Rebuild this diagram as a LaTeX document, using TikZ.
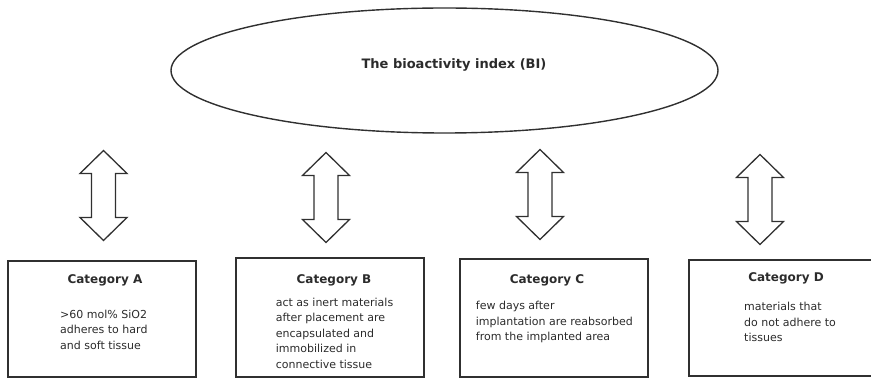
\documentclass[tikz,border=0pt]{standalone}
\usepackage{fontspec}
\setmainfont{DejaVu Sans}
\usetikzlibrary{shapes.geometric}
\definecolor{ink}{HTML}{2B2B2B}
\definecolor{linec}{HTML}{303030}
\tikzset{
  boxnode/.style={draw=linec, line width=1.8pt, rectangle, inner sep=0pt},
  ovalnode/.style={draw=linec, line width=1.4pt, ellipse, inner sep=0pt},
  headtext/.style={text=ink, font=\bfseries\fontsize{12}{14}\selectfont, inner sep=0pt, anchor=base},
  bodytext/.style={text=ink, font=\fontsize{11}{15.5}\selectfont, inner sep=0pt, anchor=north west, align=left},
  bitext/.style={text=ink, font=\bfseries\fontsize{13}{15}\selectfont, inner sep=0pt},
  arrline/.style={draw=linec, line width=1.3pt, line join=miter},
  dblarr/.pic={
    \path[arrline] (0,0) -- (23.5,23) -- (12,23) -- (12,67) -- (23.5,67) -- (0,90)
      -- (-23.5,67) -- (-12,67) -- (-12,23) -- (-23.5,23) -- cycle;
  }
}
\begin{document}
\begin{tikzpicture}[x=1pt,y=-1pt]
\useasboundingbox (0,0) rectangle (871,379);
\clip (0,0) rectangle (871,379);

% top ellipse
\node[ovalnode, minimum width=547pt, minimum height=125pt] (bi) at (444.5,70.5) {};
\node[bitext] (bilabel) at (454,65) {The bioactivity index (BI)};

% double arrows
\pic (arA) at (103.5,150.5) {dblarr};
\pic (arB) at (326,152.5) {dblarr};
\pic (arC) at (540,149.5) {dblarr};
\pic (arD) at (760,154.5) {dblarr};

% boxes
\node[boxnode, minimum width=187.4pt, minimum height=116.3pt] (boxA) at (102,318.85) {};
\node[boxnode, minimum width=188.3pt, minimum height=118.4pt] (boxB) at (329.85,317.5) {};
\node[boxnode, minimum width=188.3pt, minimum height=118pt] (boxC) at (554.15,318.3) {};
\node[boxnode, minimum width=191.7pt, minimum height=116pt] (boxD) at (785.15,318) {};

% titles
\node[headtext] (tA) at (105,283.5) {Category A};
\node[headtext] (tB) at (334,283.5) {Category B};
\node[headtext] (tC) at (547,283.5) {Category C};
\node[headtext] (tD) at (786,281.5) {Category D};

% bodies
\node[bodytext] (bA) at (60,309.6) {>60 mol\% SiO2\\adheres to hard\\and soft tissue};
\node[bodytext] (bB) at (275.7,297.6) {act as inert materials\\after placement are\\encapsulated and\\immobilized in\\connective tissue};
\node[bodytext] (bC) at (475.7,301) {few days after\\implantation are reabsorbed\\from the implanted area};
\node[bodytext] (bD) at (744,302) {materials that\\do not adhere to\\tissues};
\end{tikzpicture}
\end{document}
